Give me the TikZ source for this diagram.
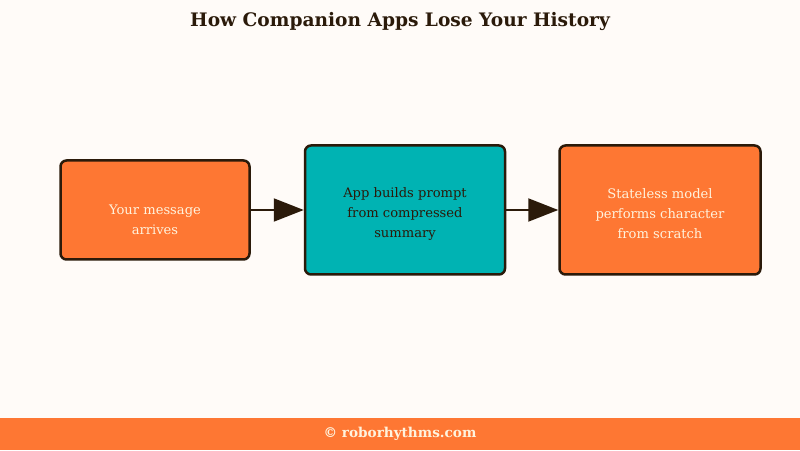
\documentclass[tikz,border=0pt]{standalone}
\usepackage{fontspec}
\setmainfont{DejaVu Serif}
\usetikzlibrary{positioning,arrows.meta}
\definecolor{bgcream}{HTML}{FFFBF8}
\definecolor{boxorange}{HTML}{FE7733}
\definecolor{boxteal}{HTML}{00B3B3}
\definecolor{inkbrown}{HTML}{2B1A0A}
\definecolor{textcream}{HTML}{FFF3DD}
\tikzset{
  stepbox/.style={draw=inkbrown, line width=2.5pt, rounded corners=6pt, align=center,
    font=\fontsize{13.1}{20}\selectfont, inner sep=0pt},
  warmbox/.style={stepbox, fill=boxorange, text=textcream},
  coolbox/.style={stepbox, fill=boxteal, text=inkbrown},
  flow/.style={draw=inkbrown, line width=2pt, -{Triangle[length=30pt,width=23pt]}}
}
\begin{document}
\begin{tikzpicture}[x=1pt,y=1pt]
\fill[bgcream] (0,0) rectangle (800,450);
\useasboundingbox (0,0) rectangle (800,450);
\fill[boxorange] (0,0) rectangle (800,32);
\node (title) at (400,428) {\fontsize{18.6}{22}\selectfont\bfseries\color{inkbrown}How Companion Apps Lose Your History};
\node (foot) at (400,16) {\fontsize{13.6}{16}\selectfont\bfseries\color{textcream}\textcopyright{} roborhythms.com};
% the three steps
\node[warmbox, minimum width=189pt, minimum height=99pt, text height=50pt] (msg) at (155,240) {Your message\\arrives};
\node[coolbox, minimum width=200pt, minimum height=129pt, text height=57pt, right=53pt of msg] (prompt) {App builds prompt\\from compressed\\summary};
\node[warmbox, minimum width=201pt, minimum height=129pt, text height=57pt, right=52pt of prompt] (model) {Stateless model\\performs character\\from scratch};
\draw[flow] (msg) -- (prompt);
\draw[flow] (prompt) -- (model);
\end{tikzpicture}
\end{document}
